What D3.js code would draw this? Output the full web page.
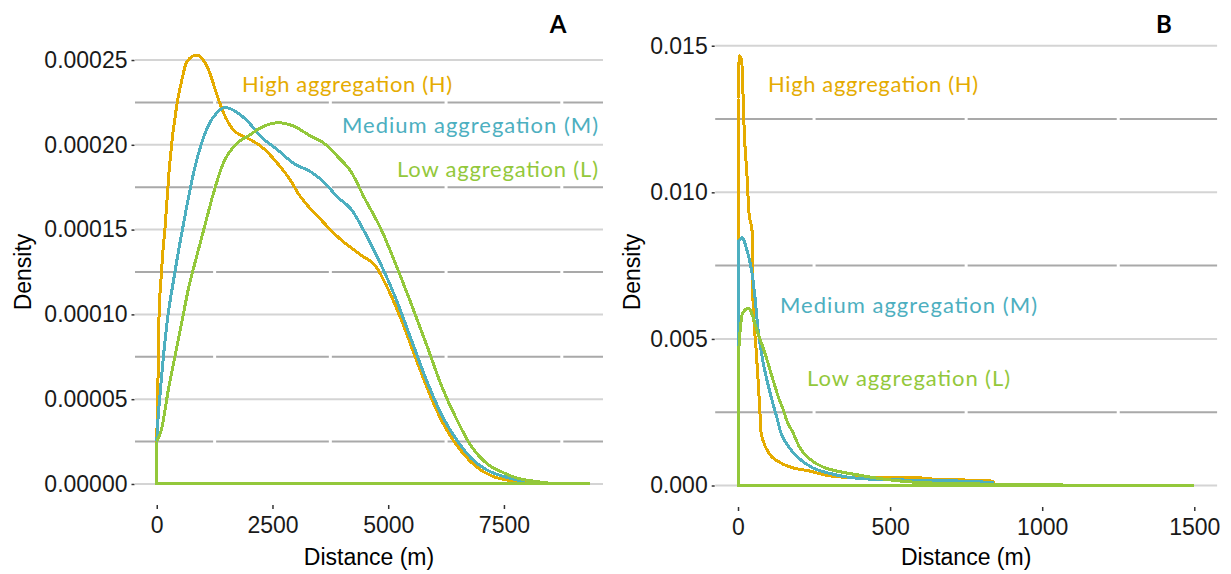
<!DOCTYPE html>
<html>
<head>
<meta charset="utf-8">
<script src="https://cdn.jsdelivr.net/npm/d3@7"></script>
<style>
    body { margin: 0; background: #fff; }
    svg { display: block; }
</style>
</head>
<body>
<div id="container"></div>
<script>
const width = 1231;
const height = 574;

// panel A (all distances)
const distA_H = [0, 20, 50, 90, 130, 175, 280, 430, 540, 650, 870, 1090, 1330, 1440, 1650, 1950, 2090, 2300, 2610, 2890, 3040, 3540, 3980, 4410, 4740, 4960, 5280, 5610, 5940, 6260, 6590, 6910, 7240, 7670, 8110, 8500];
const densA_H = [2.6e-5, 5e-5, 10e-5, 12e-5, 13.6e-5, 15e-5, 18.9e-5, 22.3e-5, 23.8e-5, 24.9e-5, 25.3e-5, 24.6e-5, 22.7e-5, 21.9e-5, 20.9e-5, 20.4e-5, 20.2e-5, 19.8e-5, 18.9e-5, 17.9e-5, 17.2e-5, 15.6e-5, 14.4e-5, 13.5e-5, 12.8e-5, 11.7e-5, 9.7e-5, 7.3e-5, 5.0e-5, 3.2e-5, 1.9e-5, 1.0e-5, 0.47e-5, 0.18e-5, 0.06e-5, 0];

const distA_M = [0, 22, 65, 130, 240, 350, 435, 500, 650, 760, 935, 1110, 1300, 1480, 1740, 1960, 2240, 2610, 2960, 3330, 3610, 3910, 4200, 4520, 4850, 5170, 5500, 5830, 6150, 6480, 6800, 7130, 7460, 7780, 7950];
const densA_M = [2.5e-5, 3.6e-5, 5.1e-5, 7.1e-5, 9.9e-5, 11.8e-5, 13.2e-5, 14.2e-5, 16.4e-5, 17.9e-5, 19.8e-5, 21.1e-5, 21.9e-5, 22.2e-5, 21.9e-5, 21.4e-5, 20.5e-5, 19.7e-5, 18.9e-5, 18.4e-5, 17.8e-5, 16.9e-5, 16.2e-5, 14.7e-5, 12.9e-5, 10.9e-5, 8.5e-5, 6.1e-5, 4.1e-5, 2.6e-5, 1.5e-5, 0.83e-5, 0.47e-5, 0.24e-5, 0.1e-5];

const distA_L = [0, 110, 240, 390, 545, 675, 870, 1045, 1220, 1435, 1740, 2020, 2240, 2630, 2960, 3330, 3610, 3910, 4200, 4480, 4850, 5170, 5500, 5830, 6150, 6480, 6800, 7130, 7460, 7780, 8110, 8440, 8760, 9350];
const densA_L = [2.5e-5, 3.3e-5, 5.4e-5, 7.5e-5, 9.6e-5, 11.4e-5, 13.5e-5, 15.3e-5, 17.1e-5, 18.9e-5, 20.1e-5, 20.6e-5, 21.0e-5, 21.3e-5, 21.1e-5, 20.5e-5, 20.1e-5, 19.3e-5, 18.4e-5, 16.9e-5, 15.0e-5, 12.9e-5, 10.6e-5, 8.2e-5, 5.8e-5, 3.8e-5, 2.2e-5, 1.2e-5, 0.7e-5, 0.35e-5, 0.18e-5, 0.06e-5, 0.02e-5, 0];

// panel B (short distances)
const distB_H = [0, 5, 12, 16, 20, 30, 36, 46, 49, 59, 66, 72, 76, 102, 141, 181, 233, 286, 339, 424, 490, 565, 640, 740, 838, 845];
const densB_H = [0.0132, 0.01466, 0.0145, 0.0135, 0.0122, 0.0105, 0.0093, 0.0087, 0.0064, 0.0047, 0.0036, 0.0025, 0.0018, 0.0011, 0.00077, 0.0006, 0.0005, 0.00036, 0.00029, 0.00029, 0.00029, 0.00029, 0.00022, 0.00019, 0.00015, 0];

const distB_M = [0, 13, 30, 46, 56, 66, 79, 95, 112, 128, 141, 168, 207, 246, 299, 365, 473, 605, 736, 841];
const densB_M = [0.0083, 0.00845, 0.008, 0.00725, 0.0064, 0.0053, 0.0044, 0.0036, 0.0029, 0.0023, 0.0018, 0.0013, 0.00087, 0.0006, 0.00042, 0.00028, 0.0002, 0.00018, 0.00015, 0.0001];

const distB_L = [0, 7, 16, 36, 49, 62, 79, 95, 115, 135, 148, 161, 181, 200, 240, 280, 340, 395, 450, 500, 600, 800, 1000, 1500];
const densB_L = [0.0042, 0.0053, 0.0059, 0.00605, 0.00575, 0.0053, 0.0048, 0.0043, 0.0036, 0.00295, 0.0026, 0.0022, 0.0018, 0.00135, 0.00087, 0.00063, 0.00046, 0.00036, 0.00026, 0.00019, 0.0001, 0.00005, 0.00002, 0];

const seriesNames = ["High aggregation (H)", "Medium aggregation (M)", "Low aggregation (L)"];
const seriesColors = ["#E5AB00", "#4DAFC0", "#93C83B"];

const xTicksA = [0, 2500, 5000, 7500];
const xMinorA = [1250, 3750, 6250, 8750];
const yTicksA = [0, 0.00005, 0.0001, 0.00015, 0.0002, 0.00025];
const yMinorA = [0.000025, 0.000075, 0.000125, 0.000175, 0.000225];

const xTicksB = [0, 500, 1000, 1500];
const xMinorB = [250, 750, 1250];
const yTicksB = [0, 0.005, 0.01, 0.015];
const yMinorB = [0.0025, 0.0075, 0.0125];

const zip = (xs, ys) => xs.map((d, i) => [d, ys[i]]);

const panels = [
    {
        tag: "A",
        x: d3.scaleLinear().domain([-470, 9640]).range([135, 603]),
        y: d3.scaleLinear().domain([-0.0000124, 0.0002618]).range([505, 40]),
        xTicks: xTicksA, xMinor: xMinorA, yTicks: yTicksA, yMinor: yMinorA,
        yFormat: d3.format(".5f"),
        series: [zip(distA_H, densA_H), zip(distA_M, densA_M), zip(distA_L, densA_L)],
        labels: [[242, 92, 210], [342, 133, 256], [397, 177, 201]],
        tagX: 558, yTitleX: 23
    },
    {
        tag: "B",
        x: d3.scaleLinear().domain([-75, 1575]).range([715.2, 1217.1]),
        y: d3.scaleLinear().domain([-0.000733, 0.0154]).range([507, 34]),
        xTicks: xTicksB, xMinor: xMinorB, yTicks: yTicksB, yMinor: yMinorB,
        yFormat: d3.format(".3f"),
        series: [zip(distB_H, densB_H), zip(distB_M, densB_M), zip(distB_L, densB_L)],
        labels: [[768, 92, 210], [780, 313, 257], [807, 386, 203]],
        tagX: 1164, yTitleX: 632
    }
];

let svg = d3.select("#container").append("svg")
    .attr("width", width)
    .attr("height", height)
    .attr("viewBox", `0 0 ${width} ${height}`);

panels.forEach(p => {
    let g = svg.append("g");
    let [x0, x1] = p.x.range();
    let [yb, yt] = p.y.range();

    // minor horizontal grid (darker)
    g.append("g").selectAll("line")
        .data(p.yMinor)
        .join("line")
        .attr("x1", x0).attr("x2", x1)
        .attr("y1", d => p.y(d)).attr("y2", d => p.y(d))
        .attr("stroke", "#a9a9a9")
        .attr("stroke-width", 2);

    // white vertical minor grid cuts the minor lines
    g.append("g").selectAll("line")
        .data(p.xMinor)
        .join("line")
        .attr("x1", d => p.x(d)).attr("x2", d => p.x(d))
        .attr("y1", yt).attr("y2", yb)
        .attr("stroke", "#fff")
        .attr("stroke-width", 3);

    // major horizontal grid (light)
    g.append("g").selectAll("line")
        .data(p.yTicks)
        .join("line")
        .attr("x1", x0).attr("x2", x1)
        .attr("y1", d => p.y(d)).attr("y2", d => p.y(d))
        .attr("stroke", "#d4d4d4")
        .attr("stroke-width", 2);

    // density outlines: smooth curve plus the vertical start and baseline
    let curve = d3.line().x(d => p.x(d[0])).y(d => p.y(d[1])).curve(d3.curveMonotoneX);
    let edge = d3.line().x(d => p.x(d[0])).y(d => p.y(d[1]));
    let s = g.append("g").selectAll("g")
        .data(p.series)
        .join("g")
        .attr("fill", "none")
        .attr("stroke", (d, i) => seriesColors[i])
        .attr("stroke-width", 3)
        .attr("stroke-linejoin", "round")
        .attr("shape-rendering", "crispEdges");
    s.append("path")
        .attr("d", d => edge([d[0], [d[0][0], 0], [d[d.length - 1][0], 0], d[d.length - 1]]));
    s.append("path")
        .attr("d", d => curve(d));

    // axes
    let yAxis = g.append("g")
        .attr("transform", `translate(${x0 - 0.5},0)`)
        .call(d3.axisLeft(p.y).tickValues(p.yTicks).tickFormat(p.yFormat).tickSize(3).tickPadding(4));
    let xAxis = g.append("g")
        .attr("transform", `translate(0,${yb})`)
        .call(d3.axisBottom(p.x).tickValues(p.xTicks).tickFormat(d3.format("d")).tickSize(4).tickPadding(8));
    [yAxis, xAxis].forEach(ax => {
        ax.select(".domain").remove();
        ax.selectAll(".tick line").attr("stroke", "#333").attr("stroke-width", 1.5);
        ax.selectAll(".tick text")
            .attr("fill", "#1a1a1a")
            .style("font-family", "'Liberation Sans', Arial, sans-serif")
            .style("font-size", "23px");
    });

    // axis titles
    g.append("text")
        .attr("x", (x0 + x1) / 2)
        .attr("y", 565)
        .attr("text-anchor", "middle")
        .attr("fill", "#000")
        .style("font-family", "'Liberation Sans', Arial, sans-serif")
        .style("font-size", "23px")
        .text("Distance (m)");
    g.append("text")
        .attr("transform", `translate(${p.yTitleX + 8},272) rotate(-90)`)
        .attr("text-anchor", "middle")
        .attr("fill", "#000")
        .style("font-family", "'Liberation Sans', Arial, sans-serif")
        .style("font-size", "23px")
        .text("Density");

    // series labels
    g.append("g").selectAll("text")
        .data(p.labels)
        .join("text")
        .attr("x", d => d[0])
        .attr("y", d => d[1])
        .attr("textLength", d => d[2])
        .attr("lengthAdjust", "spacing")
        .attr("fill", (d, i) => seriesColors[i])
        .style("font-family", "Lato, 'Open Sans', sans-serif")
        .style("font-size", "22px")
        .text((d, i) => seriesNames[i]);

    // panel tag
    g.append("text")
        .attr("x", p.tagX)
        .attr("y", 33)
        .attr("text-anchor", "middle")
        .attr("fill", "#000")
        .style("font-family", "Lato, 'Open Sans', sans-serif")
        .style("font-weight", "bold")
        .style("font-size", "24px")
        .text(p.tag);
});
</script>
</body>
</html>
